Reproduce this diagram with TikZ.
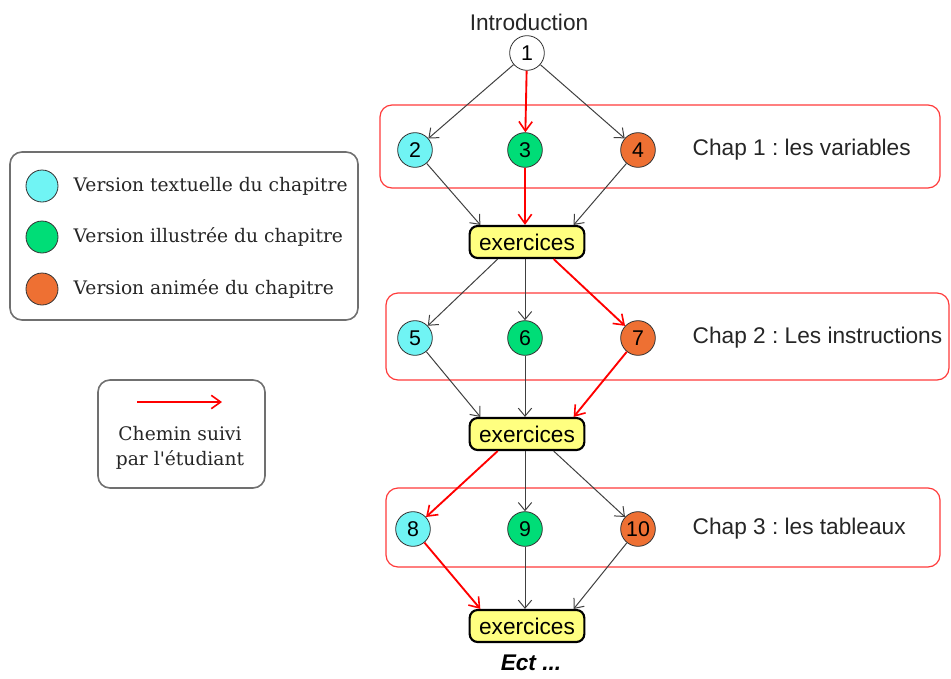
\documentclass[tikz,border=0pt]{standalone}
\usepackage{fontspec}
\setmainfont{Liberation Sans}
\newfontfamily\legendfont{DejaVu Serif}
\usetikzlibrary{arrows.meta}

\definecolor{vtext}{HTML}{70F4F4}
\definecolor{villu}{HTML}{00DD77}
\definecolor{vanim}{HTML}{EE7033}
\definecolor{exfill}{HTML}{FFFF80}
\definecolor{chapred}{HTML}{FF3B3B}
\definecolor{legframe}{HTML}{707070}

\begin{document}
\frenchspacing
\begin{tikzpicture}[x=0.75pt,y=-0.75pt,
  vers/.style={circle, draw=black!80, line width=0.6pt, minimum size=26pt,
    inner sep=0pt, font=\fontsize{16}{16}\selectfont},
  exo/.style={draw=black, line width=1.6pt, fill=exfill, rounded corners=6pt,
    minimum width=86pt, minimum height=24pt, inner sep=0pt,
    font=\fontsize{17}{17}\selectfont},
  chapframe/.style={draw=chapred, line width=0.9pt, rounded corners=9pt},
  chaplabel/.style={anchor=west, font=\fontsize{17}{17}\selectfont, text=black!85},
  plain/.style={draw=black!75, line width=0.75pt,
    -{Straight Barb[length=6pt,width=10pt,line width=0.75pt]}},
  route/.style={draw=red, line width=1.4pt,
    -{Straight Barb[length=7pt,width=10pt,line width=1.2pt]}},
  legframebox/.style={draw=legframe, line width=1.2pt, rounded corners=9pt},
  legdot/.style={circle, draw=black!80, line width=0.6pt, minimum size=24pt, inner sep=0pt},
  legtext/.style={anchor=west, font=\legendfont\fontsize{14}{16}\selectfont, text=black!85}
]
\useasboundingbox (0,0) rectangle (951,679);

% chapter frames
\draw[chapframe] (380,105) rectangle (940,188);
\draw[chapframe] (386,293) rectangle (949,380);
\draw[chapframe] (386,488) rectangle (940,567);

% introduction
\node[font=\fontsize{17}{17}\selectfont, text=black!85] (intro) at (529,22) {Introduction};
\node[vers, fill=white] (n1) at (527,53) {1};

% chapter 1
\node[vers, fill=vtext] (n2) at (415,150) {2};
\node[vers, fill=villu] (n3) at (525,150) {3};
\node[vers, fill=vanim] (n4) at (638,150) {4};
\node[chaplabel] (c1) at (688,150) {Chap 1 : les variables};
\node[exo] (ex1) at (527,242) {exercices};

% chapter 2
\node[vers, fill=vtext] (n5) at (415,338) {5};
\node[vers, fill=villu] (n6) at (525,338) {6};
\node[vers, fill=vanim] (n7) at (638,338) {7};
\node[chaplabel] (c2) at (688,338) {Chap 2 : Les instructions};
\node[exo] (ex2) at (527,434) {exercices};

% chapter 3
\node[vers, fill=vtext] (n8) at (413,529) {8};
\node[vers, fill=villu] (n9) at (525,529) {9};
\node[vers, fill=vanim] (n10) at (638,529) {10};
\node[chaplabel] (c3) at (688,529) {Chap 3 : les tableaux};
\node[exo] (ex3) at (527,626) {exercices};

\node[font=\bfseries\itshape\fontsize{17}{17}\selectfont] (etc) at (531,663) {Ect ...};

% connectors
\draw[plain] (n1) -- (n2);
\draw[route] (n1) -- (n3);
\draw[plain] (n1) -- (n4);
\draw[plain] (n2) -- ([xshift=-35pt]ex1.north);
\draw[route] (n3) -- (ex1.north -| n3);
\draw[plain] (n4) -- ([xshift=35pt]ex1.north);

\draw[plain] ([xshift=-22pt]ex1.south) -- (n5);
\draw[plain] (ex1.south -| n6) -- (n6);
\draw[route] ([xshift=20pt]ex1.south) -- (n7);
\draw[plain] (n5) -- ([xshift=-35pt]ex2.north);
\draw[plain] (n6) -- (ex2.north -| n6);
\draw[route] (n7) -- ([xshift=35pt]ex2.north);

\draw[route] ([xshift=-22pt]ex2.south) -- (n8);
\draw[plain] (ex2.south -| n9) -- (n9);
\draw[plain] ([xshift=20pt]ex2.south) -- (n10);
\draw[route] (n8) -- ([xshift=-35pt]ex3.north);
\draw[plain] (n9) -- (ex3.north -| n9);
\draw[plain] (n10) -- ([xshift=35pt]ex3.north);

% legend: versions
\draw[legframebox] (10,152) rectangle (358,320);
\node[legdot, fill=vtext] (l1) at (42,186) {};
\node[legdot, fill=villu] (l2) at (42,237) {};
\node[legdot, fill=vanim] (l3) at (42,289) {};
\node[legtext] (t1) at (69,186) {Version textuelle du chapitre};
\node[legtext] (t2) at (69,237) {Version illustrée du chapitre};
\node[legtext] (t3) at (69,289) {Version animée du chapitre};

% legend: path followed
\draw[legframebox] (98,380) rectangle (265,488);
\coordinate (a0) at (137,402);
\coordinate (a1) at (222,402);
\draw[route, line width=1.2pt] (a0) -- (a1);
\node[align=center, font=\legendfont\fontsize{14}{19}\selectfont, text=black!85] (t4) at (180,448) {Chemin suivi\\par l'étudiant};
\end{tikzpicture}
\end{document}
